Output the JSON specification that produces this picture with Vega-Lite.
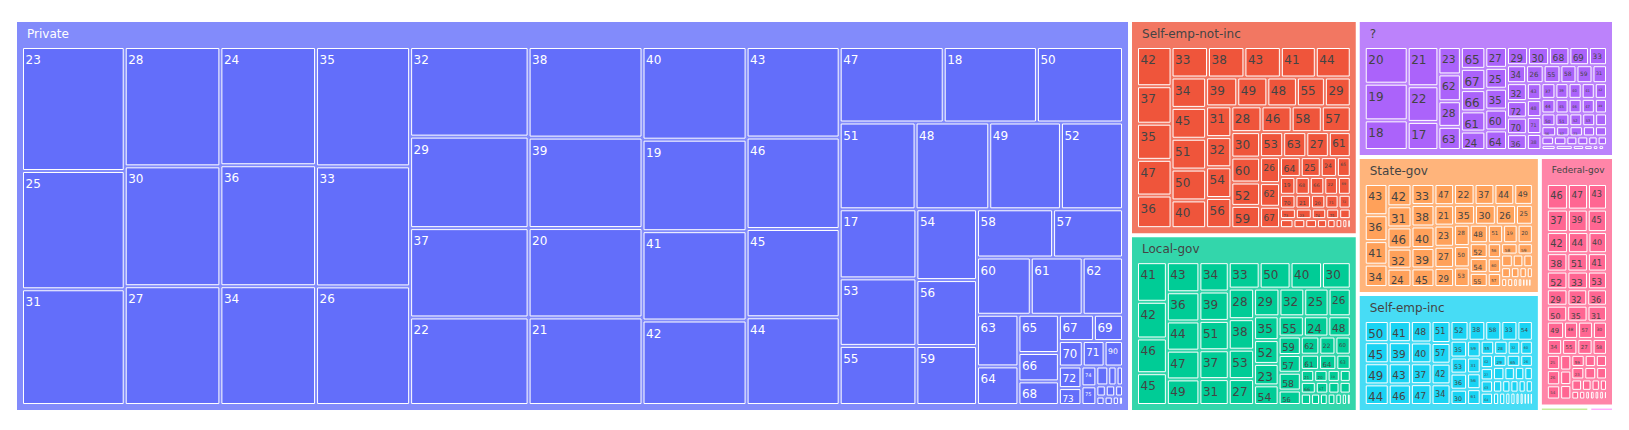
{
"$schema":"https://vega.github.io/schema/vega-lite/v6.json",
"width":1629,"height":430,"padding":0,"autosize":{"type":"none"},
"background":"white",
"config":{"view":{"stroke":null}},
"datasets":{
"classes":[
{"workclass":"Private","cp":"0"},
{"workclass":"Self-emp-not-inc","cp":"1.0"},
{"workclass":"Local-gov","cp":"1.1"},
{"workclass":"?","cp":"2.0"},
{"workclass":"State-gov","cp":"2.1.0.0"},
{"workclass":"Self-emp-inc","cp":"2.1.0.1"},
{"workclass":"Federal-gov","cp":"2.1.1.0"},
{"workclass":"Without-pay","cp":"2.1.1.1.0"},
{"workclass":"Never-worked","cp":"2.1.1.1.1"}
],
"cells":[
{"workclass":"Private","age":23,"count":733,"path":"0.0"},
{"workclass":"Private","age":25,"count":699,"path":"0.1"},
{"workclass":"Private","age":31,"count":684,"path":"0.2"},
{"workclass":"Private","age":28,"count":657,"path":"1.0"},
{"workclass":"Private","age":30,"count":660,"path":"1.1"},
{"workclass":"Private","age":27,"count":654,"path":"1.2"},
{"workclass":"Private","age":24,"count":651,"path":"2.0"},
{"workclass":"Private","age":36,"count":666,"path":"2.1"},
{"workclass":"Private","age":34,"count":654,"path":"2.2"},
{"workclass":"Private","age":35,"count":646,"path":"3.0"},
{"workclass":"Private","age":33,"count":650,"path":"3.1"},
{"workclass":"Private","age":26,"count":642,"path":"3.2"},
{"workclass":"Private","age":32,"count":611,"path":"4.0"},
{"workclass":"Private","age":29,"count":624,"path":"4.1"},
{"workclass":"Private","age":37,"count":609,"path":"4.2"},
{"workclass":"Private","age":22,"count":597,"path":"4.3"},
{"workclass":"Private","age":38,"count":594,"path":"5.0"},
{"workclass":"Private","age":39,"count":593,"path":"5.1"},
{"workclass":"Private","age":20,"count":586,"path":"5.2"},
{"workclass":"Private","age":21,"count":574,"path":"5.3"},
{"workclass":"Private","age":40,"count":555,"path":"6.0"},
{"workclass":"Private","age":19,"count":548,"path":"6.1"},
{"workclass":"Private","age":41,"count":535,"path":"6.2"},
{"workclass":"Private","age":42,"count":506,"path":"6.3"},
{"workclass":"Private","age":43,"count":485,"path":"7.0"},
{"workclass":"Private","age":46,"count":490,"path":"7.1"},
{"workclass":"Private","age":45,"count":473,"path":"7.2"},
{"workclass":"Private","age":44,"count":470,"path":"7.3"},
{"workclass":"Private","age":47,"count":452,"path":"8.0.0"},
{"workclass":"Private","age":18,"count":405,"path":"8.0.1"},
{"workclass":"Private","age":50,"count":374,"path":"8.0.2"},
{"workclass":"Private","age":51,"count":379,"path":"8.1.0"},
{"workclass":"Private","age":48,"count":368,"path":"8.1.1"},
{"workclass":"Private","age":49,"count":358,"path":"8.1.2"},
{"workclass":"Private","age":52,"count":310,"path":"8.1.3"},
{"workclass":"Private","age":17,"count":305,"path":"8.2.0.0"},
{"workclass":"Private","age":53,"count":298,"path":"8.2.0.1"},
{"workclass":"Private","age":55,"count":261,"path":"8.2.0.2"},
{"workclass":"Private","age":54,"count":247,"path":"8.2.1.0"},
{"workclass":"Private","age":56,"count":230,"path":"8.2.1.1"},
{"workclass":"Private","age":59,"count":206,"path":"8.2.1.2"},
{"workclass":"Private","age":58,"count":211,"path":"8.2.2.0.0"},
{"workclass":"Private","age":57,"count":194,"path":"8.2.2.0.1"},
{"workclass":"Private","age":60,"count":177,"path":"8.2.2.1.0"},
{"workclass":"Private","age":61,"count":171,"path":"8.2.2.1.1"},
{"workclass":"Private","age":62,"count":133,"path":"8.2.2.1.2"},
{"workclass":"Private","age":63,"count":123,"path":"8.2.2.2.0.0"},
{"workclass":"Private","age":64,"count":92,"path":"8.2.2.2.0.1"},
{"workclass":"Private","age":65,"count":89,"path":"8.2.2.2.1.0"},
{"workclass":"Private","age":66,"count":66,"path":"8.2.2.2.1.1"},
{"workclass":"Private","age":68,"count":55,"path":"8.2.2.2.1.2"},
{"workclass":"Private","age":67,"count":53,"path":"8.2.2.2.2.0.0"},
{"workclass":"Private","age":69,"count":44,"path":"8.2.2.2.2.0.1"},
{"workclass":"Private","age":70,"count":35,"path":"8.2.2.2.2.1.0"},
{"workclass":"Private","age":71,"count":32,"path":"8.2.2.2.2.1.1"},
{"workclass":"Private","age":90,"count":27,"path":"8.2.2.2.2.1.2"},
{"workclass":"Private","age":72,"count":28,"path":"8.2.2.2.2.2.0.0"},
{"workclass":"Private","age":73,"count":22,"path":"8.2.2.2.2.2.0.1"},
{"workclass":"Private","age":74,"count":17,"path":"8.2.2.2.2.2.1.0"},
{"workclass":"Private","age":75,"count":16,"path":"8.2.2.2.2.2.1.1"},
{"workclass":"Private","age":76,"count":13,"path":"8.2.2.2.2.2.2.0.0"},
{"workclass":"Private","age":77,"count":9,"path":"8.2.2.2.2.2.2.0.1"},
{"workclass":"Private","age":78,"count":7,"path":"8.2.2.2.2.2.2.0.2"},
{"workclass":"Private","age":79,"count":6,"path":"8.2.2.2.2.2.2.1.0"},
{"workclass":"Private","age":80,"count":6,"path":"8.2.2.2.2.2.2.1.1"},
{"workclass":"Private","age":81,"count":5,"path":"8.2.2.2.2.2.2.1.2"},
{"workclass":"Private","age":82,"count":4,"path":"8.2.2.2.2.2.2.2.0"},
{"workclass":"Private","age":84,"count":4,"path":"8.2.2.2.2.2.2.2.1"},
{"workclass":"Private","age":83,"count":3,"path":"8.2.2.2.2.2.2.2.2"},
{"workclass":"Private","age":85,"count":2,"path":"8.2.2.2.2.2.2.2.3"},

{"workclass":"Self-emp-not-inc","age":42,"count":89,"path":"0.0"},
{"workclass":"Self-emp-not-inc","age":37,"count":85,"path":"0.1"},
{"workclass":"Self-emp-not-inc","age":35,"count":82,"path":"0.2"},
{"workclass":"Self-emp-not-inc","age":47,"count":81,"path":"0.3"},
{"workclass":"Self-emp-not-inc","age":36,"count":74,"path":"0.4"},
{"workclass":"Self-emp-not-inc","age":33,"count":73,"path":"1.0.0"},
{"workclass":"Self-emp-not-inc","age":38,"count":73,"path":"1.0.1"},
{"workclass":"Self-emp-not-inc","age":43,"count":73,"path":"1.0.2"},
{"workclass":"Self-emp-not-inc","age":41,"count":70,"path":"1.0.3"},
{"workclass":"Self-emp-not-inc","age":44,"count":70,"path":"1.0.4"},
{"workclass":"Self-emp-not-inc","age":34,"count":69,"path":"1.1.0.0"},
{"workclass":"Self-emp-not-inc","age":45,"count":70,"path":"1.1.0.1"},
{"workclass":"Self-emp-not-inc","age":51,"count":70,"path":"1.1.0.2"},
{"workclass":"Self-emp-not-inc","age":50,"count":70,"path":"1.1.0.3"},
{"workclass":"Self-emp-not-inc","age":40,"count":63,"path":"1.1.0.4"},
{"workclass":"Self-emp-not-inc","age":39,"count":59,"path":"1.1.1.0.0"},
{"workclass":"Self-emp-not-inc","age":49,"count":57,"path":"1.1.1.0.1"},
{"workclass":"Self-emp-not-inc","age":48,"count":56,"path":"1.1.1.0.2"},
{"workclass":"Self-emp-not-inc","age":55,"count":53,"path":"1.1.1.0.3"},
{"workclass":"Self-emp-not-inc","age":29,"count":49,"path":"1.1.1.0.4"},
{"workclass":"Self-emp-not-inc","age":31,"count":51,"path":"1.1.1.1.0.0"},
{"workclass":"Self-emp-not-inc","age":32,"count":50,"path":"1.1.1.1.0.1"},
{"workclass":"Self-emp-not-inc","age":54,"count":51,"path":"1.1.1.1.0.2"},
{"workclass":"Self-emp-not-inc","age":56,"count":50,"path":"1.1.1.1.0.3"},
{"workclass":"Self-emp-not-inc","age":28,"count":51,"path":"1.1.1.1.1.0.0"},
{"workclass":"Self-emp-not-inc","age":46,"count":51,"path":"1.1.1.1.1.0.1"},
{"workclass":"Self-emp-not-inc","age":58,"count":51,"path":"1.1.1.1.1.0.2"},
{"workclass":"Self-emp-not-inc","age":57,"count":49,"path":"1.1.1.1.1.0.3"},
{"workclass":"Self-emp-not-inc","age":30,"count":48,"path":"1.1.1.1.1.1.0.0"},
{"workclass":"Self-emp-not-inc","age":60,"count":47,"path":"1.1.1.1.1.1.0.1"},
{"workclass":"Self-emp-not-inc","age":52,"count":44,"path":"1.1.1.1.1.1.0.2"},
{"workclass":"Self-emp-not-inc","age":59,"count":42,"path":"1.1.1.1.1.1.0.3"},
{"workclass":"Self-emp-not-inc","age":53,"count":38,"path":"1.1.1.1.1.1.1.0.0"},
{"workclass":"Self-emp-not-inc","age":63,"count":38,"path":"1.1.1.1.1.1.1.0.1"},
{"workclass":"Self-emp-not-inc","age":27,"count":37,"path":"1.1.1.1.1.1.1.0.2"},
{"workclass":"Self-emp-not-inc","age":61,"count":36,"path":"1.1.1.1.1.1.1.0.3"},
{"workclass":"Self-emp-not-inc","age":26,"count":34,"path":"1.1.1.1.1.1.1.1.0.0"},
{"workclass":"Self-emp-not-inc","age":62,"count":31,"path":"1.1.1.1.1.1.1.1.0.1"},
{"workclass":"Self-emp-not-inc","age":67,"count":28,"path":"1.1.1.1.1.1.1.1.0.2"},
{"workclass":"Self-emp-not-inc","age":64,"count":27,"path":"1.1.1.1.1.1.1.1.1.0.0"},
{"workclass":"Self-emp-not-inc","age":25,"count":26,"path":"1.1.1.1.1.1.1.1.1.0.1"},
{"workclass":"Self-emp-not-inc","age":24,"count":21,"path":"1.1.1.1.1.1.1.1.1.0.2"},
{"workclass":"Self-emp-not-inc","age":65,"count":18,"path":"1.1.1.1.1.1.1.1.1.0.3"},
{"workclass":"Self-emp-not-inc","age":19,"count":18,"path":"1.1.1.1.1.1.1.1.1.1.0"},
{"workclass":"Self-emp-not-inc","age":68,"count":17,"path":"1.1.1.1.1.1.1.1.1.1.1"},
{"workclass":"Self-emp-not-inc","age":66,"count":17,"path":"1.1.1.1.1.1.1.1.1.1.2"},
{"workclass":"Self-emp-not-inc","age":22,"count":16,"path":"1.1.1.1.1.1.1.1.1.1.3"},
{"workclass":"Self-emp-not-inc","age":69,"count":15,"path":"1.1.1.1.1.1.1.1.1.1.4"},
{"workclass":"Self-emp-not-inc","age":70,"count":14,"path":"1.1.1.1.1.1.1.1.1.2.0"},
{"workclass":"Self-emp-not-inc","age":21,"count":14,"path":"1.1.1.1.1.1.1.1.1.2.1"},
{"workclass":"Self-emp-not-inc","age":20,"count":13,"path":"1.1.1.1.1.1.1.1.1.2.2"},
{"workclass":"Self-emp-not-inc","age":71,"count":12,"path":"1.1.1.1.1.1.1.1.1.2.3"},
{"workclass":"Self-emp-not-inc","age":72,"count":11,"path":"1.1.1.1.1.1.1.1.1.2.4"},
{"workclass":"Self-emp-not-inc","age":73,"count":11,"path":"1.1.1.1.1.1.1.1.1.3.0"},
{"workclass":"Self-emp-not-inc","age":23,"count":11,"path":"1.1.1.1.1.1.1.1.1.3.1"},
{"workclass":"Self-emp-not-inc","age":74,"count":10,"path":"1.1.1.1.1.1.1.1.1.3.2"},
{"workclass":"Self-emp-not-inc","age":75,"count":9,"path":"1.1.1.1.1.1.1.1.1.3.3"},
{"workclass":"Self-emp-not-inc","age":76,"count":8,"path":"1.1.1.1.1.1.1.1.1.3.4"},
{"workclass":"Self-emp-not-inc","age":77,"count":8,"path":"1.1.1.1.1.1.1.1.1.4.0"},
{"workclass":"Self-emp-not-inc","age":78,"count":7,"path":"1.1.1.1.1.1.1.1.1.4.1"},
{"workclass":"Self-emp-not-inc","age":90,"count":7,"path":"1.1.1.1.1.1.1.1.1.4.2"},
{"workclass":"Self-emp-not-inc","age":79,"count":6,"path":"1.1.1.1.1.1.1.1.1.4.3"},
{"workclass":"Self-emp-not-inc","age":18,"count":5,"path":"1.1.1.1.1.1.1.1.1.4.4"},
{"workclass":"Self-emp-not-inc","age":80,"count":4,"path":"1.1.1.1.1.1.1.1.1.4.5"},
{"workclass":"Self-emp-not-inc","age":82,"count":3,"path":"1.1.1.1.1.1.1.1.1.4.6"},
{"workclass":"Self-emp-not-inc","age":81,"count":2,"path":"1.1.1.1.1.1.1.1.1.4.7"},

{"workclass":"Local-gov","age":41,"count":81,"path":"0.0"},
{"workclass":"Local-gov","age":42,"count":75,"path":"0.1"},
{"workclass":"Local-gov","age":46,"count":71,"path":"0.2"},
{"workclass":"Local-gov","age":45,"count":65,"path":"0.3"},
{"workclass":"Local-gov","age":43,"count":67,"path":"1.0"},
{"workclass":"Local-gov","age":36,"count":65,"path":"1.1"},
{"workclass":"Local-gov","age":44,"count":65,"path":"1.2"},
{"workclass":"Local-gov","age":47,"count":64,"path":"1.3"},
{"workclass":"Local-gov","age":49,"count":57,"path":"1.4"},
{"workclass":"Local-gov","age":34,"count":59,"path":"2.0"},
{"workclass":"Local-gov","age":39,"count":59,"path":"2.1"},
{"workclass":"Local-gov","age":51,"count":59,"path":"2.2"},
{"workclass":"Local-gov","age":37,"count":58,"path":"2.3"},
{"workclass":"Local-gov","age":31,"count":52,"path":"2.4"},
{"workclass":"Local-gov","age":33,"count":56,"path":"3.0.0"},
{"workclass":"Local-gov","age":50,"count":56,"path":"3.0.1"},
{"workclass":"Local-gov","age":40,"count":57,"path":"3.0.2"},
{"workclass":"Local-gov","age":30,"count":52,"path":"3.0.3"},
{"workclass":"Local-gov","age":28,"count":53,"path":"3.1.0.0"},
{"workclass":"Local-gov","age":38,"count":53,"path":"3.1.0.1"},
{"workclass":"Local-gov","age":53,"count":51,"path":"3.1.0.2"},
{"workclass":"Local-gov","age":27,"count":45,"path":"3.1.0.3"},
{"workclass":"Local-gov","age":29,"count":48,"path":"3.1.1.0.0"},
{"workclass":"Local-gov","age":32,"count":47,"path":"3.1.1.0.1"},
{"workclass":"Local-gov","age":25,"count":46,"path":"3.1.1.0.2"},
{"workclass":"Local-gov","age":26,"count":42,"path":"3.1.1.0.3"},
{"workclass":"Local-gov","age":35,"count":40,"path":"3.1.1.1.0.0"},
{"workclass":"Local-gov","age":52,"count":40,"path":"3.1.1.1.0.1"},
{"workclass":"Local-gov","age":23,"count":36,"path":"3.1.1.1.0.2"},
{"workclass":"Local-gov","age":54,"count":33,"path":"3.1.1.1.0.3"},
{"workclass":"Local-gov","age":55,"count":35,"path":"3.1.1.1.1.0.0"},
{"workclass":"Local-gov","age":24,"count":34,"path":"3.1.1.1.1.0.1"},
{"workclass":"Local-gov","age":48,"count":31,"path":"3.1.1.1.1.0.2"},
{"workclass":"Local-gov","age":59,"count":28,"path":"3.1.1.1.1.1.0.0"},
{"workclass":"Local-gov","age":57,"count":27,"path":"3.1.1.1.1.1.0.1"},
{"workclass":"Local-gov","age":58,"count":27,"path":"3.1.1.1.1.1.0.2"},
{"workclass":"Local-gov","age":56,"count":22,"path":"3.1.1.1.1.1.0.3"},
{"workclass":"Local-gov","age":62,"count":23,"path":"3.1.1.1.1.1.1.0.0"},
{"workclass":"Local-gov","age":22,"count":20,"path":"3.1.1.1.1.1.1.0.1"},
{"workclass":"Local-gov","age":60,"count":19,"path":"3.1.1.1.1.1.1.0.2"},
{"workclass":"Local-gov","age":61,"count":19,"path":"3.1.1.1.1.1.1.1.0"},
{"workclass":"Local-gov","age":64,"count":18,"path":"3.1.1.1.1.1.1.1.1"},
{"workclass":"Local-gov","age":63,"count":15,"path":"3.1.1.1.1.1.1.1.2"},
{"workclass":"Local-gov","age":21,"count":11,"path":"3.1.1.1.1.1.1.2.0"},
{"workclass":"Local-gov","age":20,"count":11,"path":"3.1.1.1.1.1.1.2.1"},
{"workclass":"Local-gov","age":19,"count":10,"path":"3.1.1.1.1.1.1.2.2"},
{"workclass":"Local-gov","age":65,"count":9,"path":"3.1.1.1.1.1.1.2.3"},
{"workclass":"Local-gov","age":66,"count":12,"path":"3.1.1.1.1.1.1.3.0"},
{"workclass":"Local-gov","age":67,"count":10,"path":"3.1.1.1.1.1.1.3.1"},
{"workclass":"Local-gov","age":68,"count":9,"path":"3.1.1.1.1.1.1.3.2"},
{"workclass":"Local-gov","age":18,"count":9,"path":"3.1.1.1.1.1.1.3.3"},
{"workclass":"Local-gov","age":69,"count":8,"path":"3.1.1.1.1.1.1.4.0"},
{"workclass":"Local-gov","age":70,"count":7,"path":"3.1.1.1.1.1.1.4.1"},
{"workclass":"Local-gov","age":71,"count":6,"path":"3.1.1.1.1.1.1.4.2"},
{"workclass":"Local-gov","age":72,"count":6,"path":"3.1.1.1.1.1.1.4.3"},
{"workclass":"Local-gov","age":73,"count":5,"path":"3.1.1.1.1.1.1.4.4"},
{"workclass":"Local-gov","age":74,"count":4,"path":"3.1.1.1.1.1.1.4.5"},
{"workclass":"Local-gov","age":90,"count":3,"path":"3.1.1.1.1.1.1.4.6"},

{"workclass":"?","age":20,"count":115,"path":"0.0"},
{"workclass":"?","age":19,"count":115,"path":"0.1"},
{"workclass":"?","age":18,"count":93,"path":"0.2"},
{"workclass":"?","age":21,"count":88,"path":"1.0"},
{"workclass":"?","age":22,"count":80,"path":"1.1"},
{"workclass":"?","age":17,"count":63,"path":"1.2"},
{"workclass":"?","age":23,"count":45,"path":"2.0"},
{"workclass":"?","age":62,"count":44,"path":"2.1"},
{"workclass":"?","age":28,"count":42,"path":"2.2"},
{"workclass":"?","age":63,"count":38,"path":"2.3"},
{"workclass":"?","age":65,"count":39,"path":"3.0"},
{"workclass":"?","age":67,"count":38,"path":"3.1"},
{"workclass":"?","age":66,"count":38,"path":"3.2"},
{"workclass":"?","age":61,"count":36,"path":"3.3"},
{"workclass":"?","age":24,"count":33,"path":"3.4"},
{"workclass":"?","age":27,"count":33,"path":"4.0"},
{"workclass":"?","age":25,"count":33,"path":"4.1"},
{"workclass":"?","age":35,"count":33,"path":"4.2"},
{"workclass":"?","age":60,"count":33,"path":"4.3"},
{"workclass":"?","age":64,"count":31,"path":"4.4"},
{"workclass":"?","age":29,"count":28,"path":"5.0.0"},
{"workclass":"?","age":30,"count":28,"path":"5.0.1"},
{"workclass":"?","age":68,"count":27,"path":"5.0.2"},
{"workclass":"?","age":69,"count":26,"path":"5.0.3"},
{"workclass":"?","age":33,"count":24,"path":"5.0.4"},
{"workclass":"?","age":34,"count":25,"path":"5.1.0"},
{"workclass":"?","age":26,"count":23,"path":"5.1.1"},
{"workclass":"?","age":55,"count":22,"path":"5.1.2"},
{"workclass":"?","age":58,"count":21,"path":"5.1.3"},
{"workclass":"?","age":59,"count":21,"path":"5.1.4"},
{"workclass":"?","age":31,"count":19,"path":"5.1.5"},
{"workclass":"?","age":32,"count":26,"path":"5.2.0.0"},
{"workclass":"?","age":72,"count":24,"path":"5.2.0.1"},
{"workclass":"?","age":70,"count":24,"path":"5.2.0.2"},
{"workclass":"?","age":36,"count":23,"path":"5.2.0.3"},
{"workclass":"?","age":43,"count":18,"path":"5.2.1.0"},
{"workclass":"?","age":48,"count":18,"path":"5.2.1.1"},
{"workclass":"?","age":71,"count":18,"path":"5.2.1.2"},
{"workclass":"?","age":38,"count":17,"path":"5.2.1.3"},
{"workclass":"?","age":37,"count":16,"path":"5.2.2.0.0"},
{"workclass":"?","age":39,"count":15,"path":"5.2.2.0.1"},
{"workclass":"?","age":40,"count":15,"path":"5.2.2.0.2"},
{"workclass":"?","age":41,"count":15,"path":"5.2.2.0.3"},
{"workclass":"?","age":42,"count":14,"path":"5.2.2.0.4"},
{"workclass":"?","age":44,"count":15,"path":"5.2.2.1.0"},
{"workclass":"?","age":45,"count":14,"path":"5.2.2.1.1"},
{"workclass":"?","age":46,"count":14,"path":"5.2.2.1.2"},
{"workclass":"?","age":47,"count":14,"path":"5.2.2.1.3"},
{"workclass":"?","age":49,"count":13,"path":"5.2.2.1.4"},
{"workclass":"?","age":50,"count":13,"path":"5.2.2.2.0"},
{"workclass":"?","age":51,"count":13,"path":"5.2.2.2.1"},
{"workclass":"?","age":52,"count":12,"path":"5.2.2.2.2"},
{"workclass":"?","age":53,"count":12,"path":"5.2.2.2.3"},
{"workclass":"?","age":54,"count":11,"path":"5.2.2.2.4"},
{"workclass":"?","age":56,"count":11,"path":"5.2.2.3.0"},
{"workclass":"?","age":57,"count":10,"path":"5.2.2.3.1"},
{"workclass":"?","age":73,"count":10,"path":"5.2.2.3.2"},
{"workclass":"?","age":74,"count":9,"path":"5.2.2.3.3"},
{"workclass":"?","age":75,"count":9,"path":"5.2.2.3.4"},
{"workclass":"?","age":76,"count":8,"path":"5.2.2.4.0"},
{"workclass":"?","age":77,"count":8,"path":"5.2.2.4.1"},
{"workclass":"?","age":78,"count":7,"path":"5.2.2.4.2"},
{"workclass":"?","age":79,"count":7,"path":"5.2.2.4.3"},
{"workclass":"?","age":80,"count":6,"path":"5.2.2.4.4"},
{"workclass":"?","age":81,"count":6,"path":"5.2.2.4.5"},
{"workclass":"?","age":82,"count":5,"path":"5.2.2.5.0"},
{"workclass":"?","age":90,"count":6,"path":"5.2.2.5.1"},
{"workclass":"?","age":84,"count":4,"path":"5.2.2.5.2"},
{"workclass":"?","age":83,"count":3,"path":"5.2.2.5.3"},
{"workclass":"?","age":85,"count":2,"path":"5.2.2.5.4"},
{"workclass":"?","age":88,"count":2,"path":"5.2.2.5.5"},
{"workclass":"?","age":86,"count":1,"path":"5.2.2.5.6"},

{"workclass":"State-gov","age":43,"count":53,"path":"0.0"},
{"workclass":"State-gov","age":36,"count":44,"path":"0.1"},
{"workclass":"State-gov","age":41,"count":40,"path":"0.2"},
{"workclass":"State-gov","age":34,"count":38,"path":"0.3"},
{"workclass":"State-gov","age":42,"count":40,"path":"1.0"},
{"workclass":"State-gov","age":31,"count":38,"path":"1.1"},
{"workclass":"State-gov","age":46,"count":38,"path":"1.2"},
{"workclass":"State-gov","age":32,"count":36,"path":"1.3"},
{"workclass":"State-gov","age":24,"count":33,"path":"1.4"},
{"workclass":"State-gov","age":33,"count":36,"path":"2.0"},
{"workclass":"State-gov","age":38,"count":37,"path":"2.1"},
{"workclass":"State-gov","age":40,"count":37,"path":"2.2"},
{"workclass":"State-gov","age":39,"count":35,"path":"2.3"},
{"workclass":"State-gov","age":45,"count":32,"path":"2.4"},
{"workclass":"State-gov","age":47,"count":31,"path":"3.0"},
{"workclass":"State-gov","age":21,"count":30,"path":"3.1"},
{"workclass":"State-gov","age":23,"count":31,"path":"3.2"},
{"workclass":"State-gov","age":27,"count":31,"path":"3.3"},
{"workclass":"State-gov","age":29,"count":28,"path":"3.4"},
{"workclass":"State-gov","age":22,"count":32,"path":"4.0.0"},
{"workclass":"State-gov","age":37,"count":31,"path":"4.0.1"},
{"workclass":"State-gov","age":44,"count":31,"path":"4.0.2"},
{"workclass":"State-gov","age":49,"count":29,"path":"4.0.3"},
{"workclass":"State-gov","age":35,"count":31,"path":"4.1.0"},
{"workclass":"State-gov","age":30,"count":31,"path":"4.1.1"},
{"workclass":"State-gov","age":26,"count":30,"path":"4.1.2"},
{"workclass":"State-gov","age":25,"count":25,"path":"4.1.3"},
{"workclass":"State-gov","age":28,"count":25,"path":"4.2.0.0"},
{"workclass":"State-gov","age":50,"count":25,"path":"4.2.0.1"},
{"workclass":"State-gov","age":53,"count":23,"path":"4.2.0.2"},
{"workclass":"State-gov","age":48,"count":25,"path":"4.2.1.0.0"},
{"workclass":"State-gov","age":51,"count":21,"path":"4.2.1.0.1"},
{"workclass":"State-gov","age":19,"count":20,"path":"4.2.1.0.2"},
{"workclass":"State-gov","age":20,"count":21,"path":"4.2.1.0.3"},
{"workclass":"State-gov","age":52,"count":20,"path":"4.2.1.1.0.0"},
{"workclass":"State-gov","age":54,"count":20,"path":"4.2.1.1.0.1"},
{"workclass":"State-gov","age":55,"count":19,"path":"4.2.1.1.0.2"},
{"workclass":"State-gov","age":56,"count":15,"path":"4.2.1.1.1.0"},
{"workclass":"State-gov","age":60,"count":15,"path":"4.2.1.1.1.1"},
{"workclass":"State-gov","age":57,"count":14,"path":"4.2.1.1.1.2"},
{"workclass":"State-gov","age":58,"count":14,"path":"4.2.1.1.2.0.0"},
{"workclass":"State-gov","age":59,"count":13,"path":"4.2.1.1.2.0.1"},
{"workclass":"State-gov","age":61,"count":11,"path":"4.2.1.1.2.1.0"},
{"workclass":"State-gov","age":62,"count":10,"path":"4.2.1.1.2.1.1"},
{"workclass":"State-gov","age":18,"count":9,"path":"4.2.1.1.2.1.2"},
{"workclass":"State-gov","age":63,"count":8,"path":"4.2.1.1.2.2.0"},
{"workclass":"State-gov","age":64,"count":7,"path":"4.2.1.1.2.2.1"},
{"workclass":"State-gov","age":65,"count":6,"path":"4.2.1.1.2.2.2"},
{"workclass":"State-gov","age":66,"count":5,"path":"4.2.1.1.2.2.3"},
{"workclass":"State-gov","age":67,"count":4,"path":"4.2.1.1.2.3.0"},
{"workclass":"State-gov","age":68,"count":4,"path":"4.2.1.1.2.3.1"},
{"workclass":"State-gov","age":69,"count":3,"path":"4.2.1.1.2.3.2"},
{"workclass":"State-gov","age":70,"count":3,"path":"4.2.1.1.2.3.3"},
{"workclass":"State-gov","age":71,"count":2,"path":"4.2.1.1.2.3.4"},
{"workclass":"State-gov","age":72,"count":2,"path":"4.2.1.1.2.3.5"},
{"workclass":"State-gov","age":73,"count":2,"path":"4.2.1.1.2.3.6"},
{"workclass":"State-gov","age":90,"count":1,"path":"4.2.1.1.2.3.7"},

{"workclass":"Self-emp-inc","age":50,"count":40,"path":"0.0"},
{"workclass":"Self-emp-inc","age":45,"count":40,"path":"0.1"},
{"workclass":"Self-emp-inc","age":49,"count":40,"path":"0.2"},
{"workclass":"Self-emp-inc","age":44,"count":39,"path":"0.3"},
{"workclass":"Self-emp-inc","age":41,"count":37,"path":"1.0"},
{"workclass":"Self-emp-inc","age":39,"count":37,"path":"1.1"},
{"workclass":"Self-emp-inc","age":43,"count":37,"path":"1.2"},
{"workclass":"Self-emp-inc","age":46,"count":36,"path":"1.3"},
{"workclass":"Self-emp-inc","age":48,"count":35,"path":"2.0"},
{"workclass":"Self-emp-inc","age":40,"count":34,"path":"2.1"},
{"workclass":"Self-emp-inc","age":37,"count":34,"path":"2.2"},
{"workclass":"Self-emp-inc","age":47,"count":34,"path":"2.3"},
{"workclass":"Self-emp-inc","age":51,"count":33,"path":"3.0"},
{"workclass":"Self-emp-inc","age":57,"count":31,"path":"3.1"},
{"workclass":"Self-emp-inc","age":42,"count":31,"path":"3.2"},
{"workclass":"Self-emp-inc","age":34,"count":31,"path":"3.3"},
{"workclass":"Self-emp-inc","age":52,"count":28,"path":"4.0.0"},
{"workclass":"Self-emp-inc","age":38,"count":26,"path":"4.0.1"},
{"workclass":"Self-emp-inc","age":58,"count":25,"path":"4.0.2"},
{"workclass":"Self-emp-inc","age":33,"count":25,"path":"4.0.3"},
{"workclass":"Self-emp-inc","age":54,"count":24,"path":"4.0.4"},
{"workclass":"Self-emp-inc","age":35,"count":22,"path":"4.1.0.0"},
{"workclass":"Self-emp-inc","age":53,"count":21,"path":"4.1.0.1"},
{"workclass":"Self-emp-inc","age":36,"count":21,"path":"4.1.0.2"},
{"workclass":"Self-emp-inc","age":30,"count":20,"path":"4.1.0.3"},
{"workclass":"Self-emp-inc","age":59,"count":18,"path":"4.1.1.0"},
{"workclass":"Self-emp-inc","age":31,"count":17,"path":"4.1.1.1"},
{"workclass":"Self-emp-inc","age":56,"count":17,"path":"4.1.1.2"},
{"workclass":"Self-emp-inc","age":61,"count":17,"path":"4.1.1.3"},
{"workclass":"Self-emp-inc","age":55,"count":15,"path":"4.1.2.0.0"},
{"workclass":"Self-emp-inc","age":28,"count":15,"path":"4.1.2.0.1"},
{"workclass":"Self-emp-inc","age":32,"count":14,"path":"4.1.2.0.2"},
{"workclass":"Self-emp-inc","age":60,"count":14,"path":"4.1.2.0.3"},
{"workclass":"Self-emp-inc","age":62,"count":13,"path":"4.1.2.1.0.0"},
{"workclass":"Self-emp-inc","age":27,"count":12,"path":"4.1.2.1.0.1"},
{"workclass":"Self-emp-inc","age":63,"count":12,"path":"4.1.2.1.0.2"},
{"workclass":"Self-emp-inc","age":64,"count":12,"path":"4.1.2.1.0.3"},
{"workclass":"Self-emp-inc","age":29,"count":13,"path":"4.1.2.1.1.0.0"},
{"workclass":"Self-emp-inc","age":65,"count":13,"path":"4.1.2.1.1.0.1"},
{"workclass":"Self-emp-inc","age":26,"count":12,"path":"4.1.2.1.1.0.2"},
{"workclass":"Self-emp-inc","age":24,"count":12,"path":"4.1.2.1.1.1.0"},
{"workclass":"Self-emp-inc","age":66,"count":11,"path":"4.1.2.1.1.1.1"},
{"workclass":"Self-emp-inc","age":67,"count":10,"path":"4.1.2.1.1.1.2"},
{"workclass":"Self-emp-inc","age":68,"count":9,"path":"4.1.2.1.1.1.3"},
{"workclass":"Self-emp-inc","age":69,"count":9,"path":"4.1.2.1.1.2.0"},
{"workclass":"Self-emp-inc","age":70,"count":8,"path":"4.1.2.1.1.2.1"},
{"workclass":"Self-emp-inc","age":71,"count":8,"path":"4.1.2.1.1.2.2"},
{"workclass":"Self-emp-inc","age":72,"count":7,"path":"4.1.2.1.1.2.3"},
{"workclass":"Self-emp-inc","age":73,"count":7,"path":"4.1.2.1.1.2.4"},
{"workclass":"Self-emp-inc","age":74,"count":6,"path":"4.1.2.1.1.3.0"},
{"workclass":"Self-emp-inc","age":75,"count":6,"path":"4.1.2.1.1.3.1"},
{"workclass":"Self-emp-inc","age":76,"count":5,"path":"4.1.2.1.1.3.2"},
{"workclass":"Self-emp-inc","age":77,"count":5,"path":"4.1.2.1.1.3.3"},
{"workclass":"Self-emp-inc","age":78,"count":4,"path":"4.1.2.1.1.3.4"},
{"workclass":"Self-emp-inc","age":79,"count":4,"path":"4.1.2.1.1.3.5"},
{"workclass":"Self-emp-inc","age":80,"count":3,"path":"4.1.2.1.1.3.6"},
{"workclass":"Self-emp-inc","age":81,"count":3,"path":"4.1.2.1.1.3.7"},
{"workclass":"Self-emp-inc","age":25,"count":3,"path":"4.1.2.1.1.3.8"},

{"workclass":"Federal-gov","age":46,"count":40,"path":"0.0.0"},
{"workclass":"Federal-gov","age":47,"count":38,"path":"0.0.1"},
{"workclass":"Federal-gov","age":43,"count":36,"path":"0.0.2"},
{"workclass":"Federal-gov","age":37,"count":35,"path":"0.1.0"},
{"workclass":"Federal-gov","age":39,"count":33,"path":"0.1.1"},
{"workclass":"Federal-gov","age":45,"count":32,"path":"0.1.2"},
{"workclass":"Federal-gov","age":42,"count":33,"path":"0.2.0"},
{"workclass":"Federal-gov","age":44,"count":32,"path":"0.2.1"},
{"workclass":"Federal-gov","age":40,"count":29,"path":"0.2.2"},
{"workclass":"Federal-gov","age":38,"count":28,"path":"0.3.0"},
{"workclass":"Federal-gov","age":51,"count":28,"path":"0.3.1"},
{"workclass":"Federal-gov","age":41,"count":26,"path":"0.3.2"},
{"workclass":"Federal-gov","age":52,"count":27,"path":"0.4.0"},
{"workclass":"Federal-gov","age":33,"count":27,"path":"0.4.1"},
{"workclass":"Federal-gov","age":53,"count":25,"path":"0.4.2"},
{"workclass":"Federal-gov","age":29,"count":25,"path":"0.5.0"},
{"workclass":"Federal-gov","age":32,"count":24,"path":"0.5.1"},
{"workclass":"Federal-gov","age":36,"count":24,"path":"0.5.2"},
{"workclass":"Federal-gov","age":50,"count":24,"path":"0.6.0"},
{"workclass":"Federal-gov","age":35,"count":24,"path":"0.6.1"},
{"workclass":"Federal-gov","age":31,"count":23,"path":"0.6.2"},
{"workclass":"Federal-gov","age":49,"count":22,"path":"0.7.0"},
{"workclass":"Federal-gov","age":48,"count":18,"path":"0.7.1"},
{"workclass":"Federal-gov","age":57,"count":19,"path":"0.7.2"},
{"workclass":"Federal-gov","age":30,"count":18,"path":"0.7.3"},
{"workclass":"Federal-gov","age":34,"count":18,"path":"0.8.0"},
{"workclass":"Federal-gov","age":55,"count":18,"path":"0.8.1"},
{"workclass":"Federal-gov","age":27,"count":18,"path":"0.8.2"},
{"workclass":"Federal-gov","age":58,"count":17,"path":"0.8.3"},
{"workclass":"Federal-gov","age":25,"count":15,"path":"0.9.0.0"},
{"workclass":"Federal-gov","age":26,"count":15,"path":"0.9.0.1"},
{"workclass":"Federal-gov","age":54,"count":14,"path":"0.9.0.2"},
{"workclass":"Federal-gov","age":56,"count":13,"path":"0.9.1.0"},
{"workclass":"Federal-gov","age":28,"count":12,"path":"0.9.1.1"},
{"workclass":"Federal-gov","age":24,"count":12,"path":"0.9.1.2"},
{"workclass":"Federal-gov","age":59,"count":12,"path":"0.9.2.0.0"},
{"workclass":"Federal-gov","age":60,"count":10,"path":"0.9.2.0.1"},
{"workclass":"Federal-gov","age":61,"count":10,"path":"0.9.2.0.2"},
{"workclass":"Federal-gov","age":23,"count":12,"path":"0.9.2.1.0"},
{"workclass":"Federal-gov","age":62,"count":11,"path":"0.9.2.1.1"},
{"workclass":"Federal-gov","age":63,"count":10,"path":"0.9.2.1.2"},
{"workclass":"Federal-gov","age":22,"count":9,"path":"0.9.2.2.0"},
{"workclass":"Federal-gov","age":64,"count":8,"path":"0.9.2.2.1"},
{"workclass":"Federal-gov","age":65,"count":7,"path":"0.9.2.2.2"},
{"workclass":"Federal-gov","age":21,"count":6,"path":"0.9.2.2.3"},
{"workclass":"Federal-gov","age":66,"count":5,"path":"0.9.2.3.0"},
{"workclass":"Federal-gov","age":67,"count":4,"path":"0.9.2.3.1"},
{"workclass":"Federal-gov","age":68,"count":3,"path":"0.9.2.3.2"},
{"workclass":"Federal-gov","age":20,"count":3,"path":"0.9.2.3.3"},
{"workclass":"Federal-gov","age":19,"count":3,"path":"0.9.2.3.4"},
{"workclass":"Federal-gov","age":69,"count":3,"path":"0.9.2.3.5"},
{"workclass":"Federal-gov","age":70,"count":2,"path":"0.9.2.3.6"},

{"workclass":"Without-pay","age":65,"count":3,"path":"0"},
{"workclass":"Without-pay","age":19,"count":2,"path":"1"},
{"workclass":"Without-pay","age":62,"count":2,"path":"2"},
{"workclass":"Without-pay","age":57,"count":2,"path":"3"},
{"workclass":"Without-pay","age":52,"count":2,"path":"4"},
{"workclass":"Without-pay","age":21,"count":2,"path":"5"},
{"workclass":"Without-pay","age":72,"count":1,"path":"6"},
{"workclass":"Never-worked","age":18,"count":2,"path":"0"},
{"workclass":"Never-worked","age":17,"count":2,"path":"1"},
{"workclass":"Never-worked","age":20,"count":1,"path":"2"},
{"workclass":"Never-worked","age":23,"count":1,"path":"3"},
{"workclass":"Never-worked","age":30,"count":1,"path":"4"}
]
},
"data":{"name":"cells"},
"transform":[
{"lookup":"workclass","from":{"data":{"name":"classes"},"key":"workclass","fields":["cp"]}},
{"joinaggregate":[{"op":"sum","field":"count","as":"T0"}]},
{"calculate":"substring(datum.cp,0,1)","as":"K1"},
{"joinaggregate":[{"op":"sum","field":"count","as":"T1"}],"groupby":["K1"]},
{"window":[{"op":"sum","field":"count","as":"E1"}],"sort":[{"field":"K1"}],"frame":[null,0]},
{"calculate":"(datum.E1-datum.T1)/datum.T0","as":"U"},
{"calculate":"datum.T1/datum.T0","as":"DU"},
{"calculate":"substring(datum.cp,0,3)","as":"K2"},
{"joinaggregate":[{"op":"sum","field":"count","as":"T2"}],"groupby":["K2"]},
{"window":[{"op":"sum","field":"count","as":"E2"}],"groupby":["K1"],"sort":[{"field":"K2"}],"frame":[null,0]},
{"calculate":"(datum.E2-datum.T2)/datum.T1","as":"V"},
{"calculate":"datum.T2/datum.T1","as":"DV"},
{"calculate":"substring(datum.cp,0,5)","as":"K3"},
{"joinaggregate":[{"op":"sum","field":"count","as":"T3"}],"groupby":["K3"]},
{"window":[{"op":"sum","field":"count","as":"E3"}],"groupby":["K2"],"sort":[{"field":"K3"}],"frame":[null,0]},
{"calculate":"datum.U+datum.DU*(datum.E3-datum.T3)/datum.T2","as":"U"},
{"calculate":"datum.DU*datum.T3/datum.T2","as":"DU"},
{"calculate":"substring(datum.cp,0,7)","as":"K4"},
{"joinaggregate":[{"op":"sum","field":"count","as":"T4"}],"groupby":["K4"]},
{"window":[{"op":"sum","field":"count","as":"E4"}],"groupby":["K3"],"sort":[{"field":"K4"}],"frame":[null,0]},
{"calculate":"datum.V+datum.DV*(datum.E4-datum.T4)/datum.T3","as":"V"},
{"calculate":"datum.DV*datum.T4/datum.T3","as":"DV"},
{"calculate":"substring(datum.cp,0,9)","as":"K5"},
{"joinaggregate":[{"op":"sum","field":"count","as":"T5"}],"groupby":["K5"]},
{"window":[{"op":"sum","field":"count","as":"E5"}],"groupby":["K4"],"sort":[{"field":"K5"}],"frame":[null,0]},
{"calculate":"datum.U+datum.DU*(datum.E5-datum.T5)/datum.T4","as":"U"},
{"calculate":"datum.DU*datum.T5/datum.T4","as":"DU"},
{"calculate":"17+1599*datum.U","as":"cx0"},
{"calculate":"13+1599*(datum.U+datum.DU)","as":"cx1"},
{"calculate":"22+392*datum.V","as":"cy0"},
{"calculate":"18+392*(datum.V+datum.DV)","as":"cy1"},
{"joinaggregate":[{"op":"sum","field":"count","as":"A0"}],"groupby":["workclass"]},
{"calculate":"datum.workclass+':'+substring(datum.path,0,1)","as":"k1"},
{"joinaggregate":[{"op":"sum","field":"count","as":"A1"}],"groupby":["k1"]},
{"window":[{"op":"sum","field":"count","as":"e1"}],"groupby":["workclass"],"sort":[{"field":"k1"}],"frame":[null,0]},
{"calculate":"(datum.e1-datum.A1)/datum.A0","as":"u"},
{"calculate":"datum.A1/datum.A0","as":"du"},
{"calculate":"datum.workclass+':'+substring(datum.path,0,3)","as":"k2"},
{"joinaggregate":[{"op":"sum","field":"count","as":"A2"}],"groupby":["k2"]},
{"window":[{"op":"sum","field":"count","as":"e2"}],"groupby":["k1"],"sort":[{"field":"k2"}],"frame":[null,0]},
{"calculate":"(datum.e2-datum.A2)/datum.A1","as":"v"},
{"calculate":"datum.A2/datum.A1","as":"dv"},
{"calculate":"datum.workclass+':'+substring(datum.path,0,5)","as":"k3"},
{"joinaggregate":[{"op":"sum","field":"count","as":"A3"}],"groupby":["k3"]},
{"window":[{"op":"sum","field":"count","as":"e3"}],"groupby":["k2"],"sort":[{"field":"k3"}],"frame":[null,0]},
{"calculate":"datum.u+datum.du*(datum.e3-datum.A3)/datum.A2","as":"u"},
{"calculate":"datum.du*datum.A3/datum.A2","as":"du"},
{"calculate":"datum.workclass+':'+substring(datum.path,0,7)","as":"k4"},
{"joinaggregate":[{"op":"sum","field":"count","as":"A4"}],"groupby":["k4"]},
{"window":[{"op":"sum","field":"count","as":"e4"}],"groupby":["k3"],"sort":[{"field":"k4"}],"frame":[null,0]},
{"calculate":"datum.v+datum.dv*(datum.e4-datum.A4)/datum.A3","as":"v"},
{"calculate":"datum.dv*datum.A4/datum.A3","as":"dv"},
{"calculate":"datum.workclass+':'+substring(datum.path,0,9)","as":"k5"},
{"joinaggregate":[{"op":"sum","field":"count","as":"A5"}],"groupby":["k5"]},
{"window":[{"op":"sum","field":"count","as":"e5"}],"groupby":["k4"],"sort":[{"field":"k5"}],"frame":[null,0]},
{"calculate":"datum.u+datum.du*(datum.e5-datum.A5)/datum.A4","as":"u"},
{"calculate":"datum.du*datum.A5/datum.A4","as":"du"},
{"calculate":"datum.workclass+':'+substring(datum.path,0,11)","as":"k6"},
{"joinaggregate":[{"op":"sum","field":"count","as":"A6"}],"groupby":["k6"]},
{"window":[{"op":"sum","field":"count","as":"e6"}],"groupby":["k5"],"sort":[{"field":"k6"}],"frame":[null,0]},
{"calculate":"datum.v+datum.dv*(datum.e6-datum.A6)/datum.A5","as":"v"},
{"calculate":"datum.dv*datum.A6/datum.A5","as":"dv"},
{"calculate":"datum.workclass+':'+substring(datum.path,0,13)","as":"k7"},
{"joinaggregate":[{"op":"sum","field":"count","as":"A7"}],"groupby":["k7"]},
{"window":[{"op":"sum","field":"count","as":"e7"}],"groupby":["k6"],"sort":[{"field":"k7"}],"frame":[null,0]},
{"calculate":"datum.u+datum.du*(datum.e7-datum.A7)/datum.A6","as":"u"},
{"calculate":"datum.du*datum.A7/datum.A6","as":"du"},
{"calculate":"datum.workclass+':'+substring(datum.path,0,15)","as":"k8"},
{"joinaggregate":[{"op":"sum","field":"count","as":"A8"}],"groupby":["k8"]},
{"window":[{"op":"sum","field":"count","as":"e8"}],"groupby":["k7"],"sort":[{"field":"k8"}],"frame":[null,0]},
{"calculate":"datum.v+datum.dv*(datum.e8-datum.A8)/datum.A7","as":"v"},
{"calculate":"datum.dv*datum.A8/datum.A7","as":"dv"},
{"calculate":"datum.workclass+':'+substring(datum.path,0,17)","as":"k9"},
{"joinaggregate":[{"op":"sum","field":"count","as":"A9"}],"groupby":["k9"]},
{"window":[{"op":"sum","field":"count","as":"e9"}],"groupby":["k8"],"sort":[{"field":"k9"}],"frame":[null,0]},
{"calculate":"datum.u+datum.du*(datum.e9-datum.A9)/datum.A8","as":"u"},
{"calculate":"datum.du*datum.A9/datum.A8","as":"du"},
{"calculate":"datum.workclass+':'+substring(datum.path,0,19)","as":"k10"},
{"joinaggregate":[{"op":"sum","field":"count","as":"A10"}],"groupby":["k10"]},
{"window":[{"op":"sum","field":"count","as":"e10"}],"groupby":["k9"],"sort":[{"field":"k10"}],"frame":[null,0]},
{"calculate":"datum.v+datum.dv*(datum.e10-datum.A10)/datum.A9","as":"v"},
{"calculate":"datum.dv*datum.A10/datum.A9","as":"dv"},
{"calculate":"datum.workclass+':'+substring(datum.path,0,21)","as":"k11"},
{"joinaggregate":[{"op":"sum","field":"count","as":"A11"}],"groupby":["k11"]},
{"window":[{"op":"sum","field":"count","as":"e11"}],"groupby":["k10"],"sort":[{"field":"k11"}],"frame":[null,0]},
{"calculate":"datum.u+datum.du*(datum.e11-datum.A11)/datum.A10","as":"u"},
{"calculate":"datum.du*datum.A11/datum.A10","as":"du"},
{"calculate":"datum.cx0+5","as":"ix"},
{"calculate":"datum.cx1-datum.cx0-10","as":"iw"},
{"calculate":"datum.cy0+25","as":"iy"},
{"calculate":"datum.cy1-datum.cy0-30","as":"ih"},
{"calculate":"datum.ix+datum.iw*datum.u","as":"sx0"},
{"calculate":"datum.sx0+datum.iw*datum.du","as":"sx1"},
{"calculate":"datum.iy+datum.ih*datum.v","as":"sy0"},
{"calculate":"datum.sy0+datum.ih*datum.dv","as":"sy1"}
],
"layer":[
{
"transform":[{"aggregate":[{"op":"min","field":"cx0","as":"cx0"},{"op":"min","field":"cx1","as":"cx1"},{"op":"min","field":"cy0","as":"cy0"},{"op":"min","field":"cy1","as":"cy1"}],"groupby":["workclass"]}],
"mark":{"type":"rect","fillOpacity":0.8},
"encoding":{
"x":{"field":"cx0","type":"quantitative","scale":{"domain":[0,1629],"nice":false,"zero":false},"axis":null},
"x2":{"field":"cx1"},
"y":{"field":"cy0","type":"quantitative","scale":{"domain":[0,430],"nice":false,"zero":false,"reverse":true},"axis":null},
"y2":{"field":"cy1"},
"color":{"field":"workclass","type":"nominal","scale":{"domain":["Private","Self-emp-not-inc","Local-gov","?","State-gov","Self-emp-inc","Federal-gov","Without-pay","Never-worked"],"range":["#636efa","#EF553B","#00cc96","#ab63fa","#FFA15A","#19d3f3","#FF6692","#B6E880","#FF97FF"]},"legend":null}
}
},
{
"transform":[{"filter":"datum.ih > 0"},{"calculate":"datum.sx0+1.5","as":"rx0"},{"calculate":"datum.sx1-1.5","as":"rx1"},{"calculate":"datum.sy0+1.5","as":"ry0"},{"calculate":"datum.sy1-1.5","as":"ry1"},{"filter":"datum.rx1 > datum.rx0 && datum.ry1 > datum.ry0"}],
"mark":{"type":"rect","stroke":"white","strokeWidth":1},
"encoding":{
"x":{"field":"rx0","type":"quantitative","scale":{"domain":[0,1629],"nice":false,"zero":false},"axis":null},
"x2":{"field":"rx1"},
"y":{"field":"ry0","type":"quantitative","scale":{"domain":[0,430],"nice":false,"zero":false,"reverse":true},"axis":null},
"y2":{"field":"ry1"},
"color":{"field":"workclass","type":"nominal","legend":null}
}
},
{
"transform":[{"filter":"datum.ih > 0"},{"calculate":"min(12,(datum.sx1-datum.sx0-8)/1.35,(datum.sy1-datum.sy0-6)/1.25)","as":"fs"},{"filter":"datum.fs >= 3"},{"calculate":"datum.sx0+3.5","as":"tx"},{"calculate":"datum.sy0+5+datum.fs","as":"ty"}],
"mark":{"type":"text","align":"left","baseline":"alphabetic","font":"DejaVu Sans"},
"encoding":{
"x":{"field":"tx","type":"quantitative","scale":{"domain":[0,1629],"nice":false,"zero":false},"axis":null},
"y":{"field":"ty","type":"quantitative","scale":{"domain":[0,430],"nice":false,"zero":false,"reverse":true},"axis":null},
"text":{"field":"age","type":"nominal"},
"size":{"field":"fs","type":"quantitative","scale":null},
"color":{"condition":{"test":"datum.workclass === 'Private'","value":"white"},"value":"#444444"}
}
},
{
"transform":[{"aggregate":[{"op":"min","field":"cx0","as":"cx0"},{"op":"min","field":"cx1","as":"cx1"},{"op":"min","field":"cy0","as":"cy0"},{"op":"min","field":"cy1","as":"cy1"}],"groupby":["workclass"]},{"filter":"datum.cy1-datum.cy0 > 20"},{"calculate":"min(12,(datum.cx1-datum.cx0-16)/(0.55*length(datum.workclass)))","as":"hs"},{"calculate":"datum.cx0+10","as":"hx"},{"calculate":"datum.cy0+7+0.75*datum.hs","as":"hy"}],
"mark":{"type":"text","align":"left","baseline":"alphabetic","font":"DejaVu Sans"},
"encoding":{
"x":{"field":"hx","type":"quantitative","scale":{"domain":[0,1629],"nice":false,"zero":false},"axis":null},
"y":{"field":"hy","type":"quantitative","scale":{"domain":[0,430],"nice":false,"zero":false,"reverse":true},"axis":null},
"text":{"field":"workclass","type":"nominal"},
"size":{"field":"hs","type":"quantitative","scale":null},
"color":{"condition":{"test":"datum.workclass === 'Private'","value":"white"},"value":"#444444"}
}
}
]
}
